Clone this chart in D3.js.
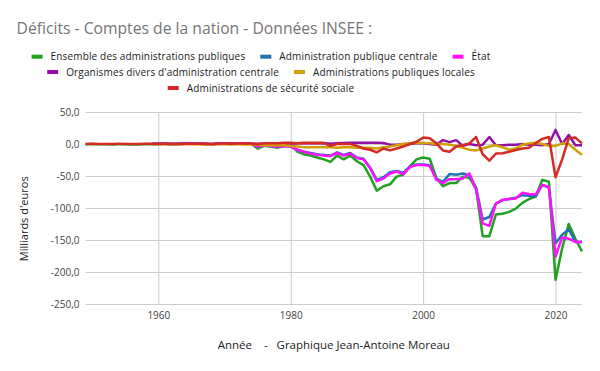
<!DOCTYPE html>
<html>
<head>
<meta charset="utf-8">
<script src="https://cdn.jsdelivr.net/npm/d3@7"></script>
<style>
	body { margin: 0; background: #fff; }
	svg { display: block; font-family: "Open Sans", sans-serif; }
</style>
</head>
<body>
<svg id="chart" width="600" height="371"></svg>
<script>

// années 1949 -> 2024
var years = d3.range(1949, 2025);

// Ensemble des administrations publiques (1949-2024)
var apu = [
	-0.2, -0.1, -0.3, -0.5, -0.6, -0.4, -0.5, -0.7, -0.8, -0.5,
	-0.3, 0.2, 0.1, -0.2, -0.1, 0.4, 0.5, 0.4, -0.1, -0.5, 0.3, 0.8, 0.6, 0.7, 0.9, 0.5,
	-7, -3, -4, -6, -3, -1, -12, -16, -18, -21,
	-24, -28, -18, -24, -18, -27, -33, -51, -73, -66,
	-63, -51, -48, -35, -24, -21, -23, -53, -66, -61,
	-61, -51, -53, -70, -144, -144, -110, -109, -106, -101,
	-92, -86, -82, -56, -59, -212, -163, -125, -148, -168
];

// Administration publique centrale (1959-2024)
var apuc = [
	null, null, null, null, null, null, null, null, null, null,
	0.2, 0.4, 0.3, 0.1, 0.2, 0.6, 0.7, 0.5, 0.2, -0.3, 0.5, 0.9, 0.6, 0.8, 1.0, 0.6,
	-4, -2, -3, -4, -3, -4, -9, -12, -14, -16,
	-17, -18, -13, -17, -14, -21, -23, -37, -56, -52,
	-44, -42, -45, -35, -32, -32, -33, -54, -59, -47,
	-48, -46, -49, -68, -118, -114, -93, -88, -86, -84,
	-80, -81, -82, -64, -68, -155, -142, -133, -153, -153
];

// État (1959-2024)
var etat = [
	null, null, null, null, null, null, null, null, null, null,
	0.1, 0.3, 0.2, 0, 0.1, 0.5, 0.6, 0.4, 0.1, -0.4, 0.4, 0.8, 0.5, 0.7, 0.9, 0.5,
	-4, -2, -3, -4, -3, -4, -9, -12, -15, -17,
	-18, -19, -14, -18, -15, -22, -24, -38, -58, -54,
	-46, -43, -47, -36, -33, -33, -34, -56, -61, -55,
	-55, -54, -46, -71, -124, -128, -93, -87, -86, -85,
	-76, -78, -79, -64, -67, -176, -146, -148, -153, -153
];

// Organismes divers d'administration centrale (1959-2024)
var odac = [
	null, null, null, null, null, null, null, null, null, null,
	0.1, 0.1, 0.2, 0.1, 0.2, 0.3, 0.2, 0.3, 0.2, 0.1, 0.3, 0.4, 0.3, 0.4, 0.5, 0.4,
	0.3, 0.5, 0.4, 0.6, 0.5, 0.5, 1, 1, 1.5, 1,
	1.5, 0.5, 1, 1.5, 2, 2, 2, 2, 2, 1.5,
	-1, -1, 0, 0, 1, 1, 0, -1, 6, 3,
	6, -3, 0, -2, -1, 11, -2, -2, -1, -1,
	0, -1, -1, -2, 0, 22, 0, 14, -2, -2
];

// Administrations publiques locales (1959-2024)
var apul = [
	null, null, null, null, null, null, null, null, null, null,
	-0.3, -0.2, -0.3, -0.4, -0.4, -0.5, -0.4, -0.5, -0.6, -0.7, -0.5, -0.4, -0.6, -0.5, -0.6, -0.8,
	-1, -2, -2, -2, -2, -3, -4, -5, -5, -5,
	-5, -5, -6, -5, -5, -6, -6, -6, -7, -5,
	-4, -2, 0, 1, 1.5, 1.5, 1, 0, 0, -1,
	-3, -6, -9, -10, -7, -4, -2, -5, -9, -7,
	-1, 1, 1.5, 0, -3, -3, 1, 0, -9, -17
];

// Administrations de sécurité sociale (1949-2024)
var asso = [
	0.1, 0.2, 0.1, 0, 0.1, 0.2, 0.1, 0, 0.1, 0.2,
	0.3, 0.2, 0.3, 0.2, 0.1, 0.3, 0.4, 0.3, 0.2, 0.1, 0.5, 0.6, 0.5, 0.7, 0.9, 0.8,
	-0.5, 1, 1, 1, 2, 2, 1, 2, 1.5, 2,
	1.5, -3, 0, 0, 0, -3, -7, -9, -13, -7,
	-10, -7, -4, 0, 3.5, 10, 9, 1, -10, -12,
	-4, -1.5, 1, 11, -16, -26, -15, -14.5, -12, -9.5,
	-7, -6, 1.5, 8, 11, -52, -24, 9, 10, 1
];

var seriesNames = [
	"Ensemble des administrations publiques",
	"Administration publique centrale",
	"État",
	"Organismes divers d'administration centrale",
	"Administrations publiques locales",
	"Administrations de sécurité sociale"
];
var seriesValues = [apu, apuc, etat, odac, apul, asso];
var seriesColors = ["#21a121", "#1f74ae", "#ff11ff", "#9111a8", "#cfa000", "#d42b25"];

var yTicks = [50, 0, -50, -100, -150, -200, -250];
var xTicks = [1960, 1980, 2000, 2020];

// rangées de la légende (indices des séries)
var legendRows = [[0, 1, 2], [3, 4], [5]];


/***************************************************************************
 *
 * SCALES
 *
 **************************************************************************/

var svg = d3.select("#chart");

var plot = { left: 85.5, right: 582, top: 112, bottom: 304 };

var xScale = d3.scaleLinear()
	.domain([1949, 2024])
	.range([plot.left, plot.right]);

var yScale = d3.scaleLinear()
	.domain([-250, 50])
	.range([plot.bottom, plot.top]);

var frLocale = d3.formatLocale({
	decimal: ",",
	thousands: " ",
	grouping: [3],
	currency: ["", " €"],
	minus: "-"
});
var formatTick = frLocale.format(".1f");


/***************************************************************************
 *
 * DRAWERS
 *
 **************************************************************************/

function drawTitle()
{
	svg.append("text")
		.attr("x", 16.5)
		.attr("y", 34)
		.style("font-size", "15.7px")
		.style("fill", "#757575")
		.text("Déficits - Comptes de la nation - Données INSEE :");
}

function drawLegend()
{
	var rowY = [56.7, 72, 88];
	var centerX = 261;
	var swatchW = 11, gapText = 8, gapItem = 15;

	legendRows.forEach(function(row, r)
	{
		var g = svg.append("g").attr("class", "legend-row");
		var offset = 0;

		row.forEach(function(i)
		{
			var item = g.append("g").attr("transform", "translate(" + offset + ",0)");
			item.append("rect")
				.attr("x", 0)
				.attr("y", rowY[r] - 2)
				.attr("width", swatchW)
				.attr("height", 4)
				.style("fill", seriesColors[i]);
			var t = item.append("text")
				.attr("x", swatchW + gapText)
				.attr("y", rowY[r] + 3.6)
				.style("font-size", "10px")
				.style("letter-spacing", "0.15px")
				.style("fill", "#1a1a1a")
				.text(seriesNames[i]);
			offset += swatchW + gapText + t.node().getComputedTextLength() + gapItem;
		});

		var total = offset - gapItem;
		g.attr("transform", "translate(" + (centerX - total / 2) + ",0)");
	});
}

function drawAxes()
{
	var yAxis = d3.axisLeft(yScale)
		.tickValues(yTicks)
		.tickFormat(formatTick)
		.tickSize(-(plot.right - plot.left))
		.tickPadding(6);

	var gy = svg.append("g")
		.attr("class", "y axis")
		.attr("transform", "translate(" + plot.left + ",0)")
		.call(yAxis);

	var xAxis = d3.axisBottom(xScale)
		.tickValues(xTicks)
		.tickFormat(d3.format("d"))
		.tickSize(-(plot.bottom - plot.top))
		.tickPadding(8);

	var gx = svg.append("g")
		.attr("class", "x axis")
		.attr("transform", "translate(0," + plot.bottom + ")")
		.call(xAxis);

	[gy, gx].forEach(function(g)
	{
		g.select(".domain").remove();
		g.selectAll(".tick line").style("stroke", "#cccccc").style("stroke-width", 1);
		g.selectAll(".tick text")
			.style("font-family", "Open Sans, sans-serif")
			.style("font-size", "10px")
			.style("fill", "#444");
	});

	// titres des axes
	svg.append("text")
		.attr("transform", "translate(28.3,218.8) rotate(-90)")
		.style("text-anchor", "middle")
		.style("font-size", "11px")
		.style("fill", "#222")
		.text("Milliards d'euros");

	svg.append("text")
		.attr("x", (plot.left + plot.right) / 2)
		.attr("y", 349)
		.style("text-anchor", "middle")
		.style("font-size", "11.5px")
		.style("fill", "#222")
		.style("white-space", "pre")
		.text("Année    -   Graphique Jean-Antoine Moreau");
}

function drawLines()
{
	var line = d3.line()
		.defined(function(d) { return d.v !== null; })
		.x(function(d) { return xScale(d.year); })
		.y(function(d) { return yScale(d.v); });

	seriesValues.forEach(function(values, i)
	{
		var data = years.map(function(y, k) { return { year: y, v: values[k] }; });

		svg.append("path")
			.datum(data)
			.attr("class", "line")
			.attr("d", line)
			.style("fill", "none")
			.style("stroke", seriesColors[i])
			.style("stroke-width", 2.5)
			.style("stroke-linejoin", "round");
	});
}

drawTitle();
drawLegend();
drawAxes();
drawLines();

</script>
</body>
</html>
